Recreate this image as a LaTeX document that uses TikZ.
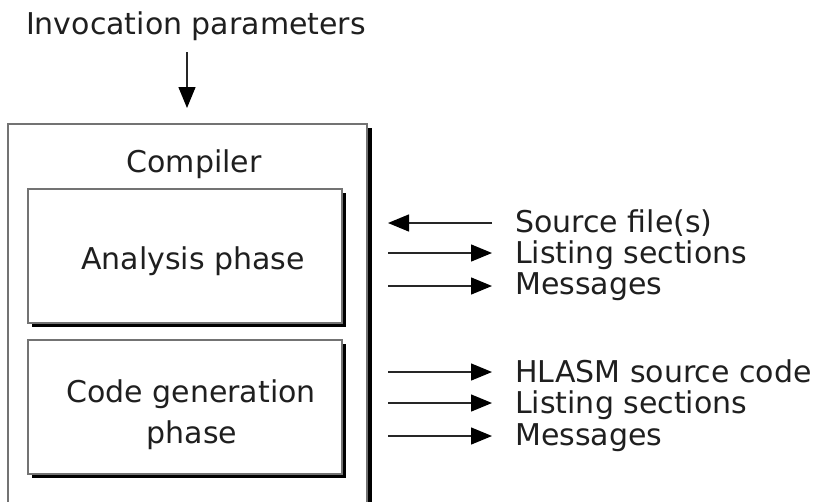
\documentclass[tikz,border=0pt]{standalone}
\usepackage{fontspec}
\setmainfont{DejaVu Sans}
\usetikzlibrary{arrows.meta,shadows}
\begin{document}
\begin{tikzpicture}[x=1pt,y=-1pt,
  every node/.style={font=\fontsize{30}{36}\selectfont, text=black!88},
  phasebox/.style={draw=black!55, line width=1.3pt, fill=white,
    minimum width=314pt, minimum height=134pt, inner sep=0pt,
    drop shadow={shadow xshift=4pt, shadow yshift=-4pt, fill=black, opacity=1}},
  flow/.style={line width=1.4pt, black!85, -{Triangle[length=21pt,width=17pt,fill=black,color=black]}},
  txt/.style={inner sep=0pt, text height=21.8pt, text depth=0pt},
  lbl/.style={txt, anchor=west}]
\clip (0,0) rectangle (813,501);
\fill[white] (0,0) rectangle (813,501);

% compiler frame with its shadow on the right
\fill[black] (363,128) rectangle (372,540);
\node[draw=black!55, line width=1.3pt, fill=white, minimum width=359pt,
  minimum height=416pt, inner sep=0pt] (comp) at (187.5,332) {};
\node[txt] (complbl) at (194,161.5) {Compiler};

% invocation parameters
\node[txt] (inv) at (196,23.5) {Invocation parameters};
\coordinate (invend) at (187,108);
\draw[flow] (187,52) -- (invend);

% the two phases
\node[phasebox] (ana) at (185,256) {};
\node[phasebox] (gen) at (185,407) {};
\node[txt] (anatxt) at (193,258.5) {Analysis phase};
\node[txt] (gentxt) at (191,392) {Code generation};
\node[txt] (gentxtb) at (192,433) {phase};

% inputs and outputs of the analysis phase
\node[lbl] (src) at (515,221.5) {Source file(s)};
\node[lbl] (lst1) at (515,252.5) {Listing sections};
\node[lbl] (msg1) at (515,284) {Messages};
\coordinate (a1) at (388,223);
\coordinate (a2) at (388,253);
\coordinate (a3) at (388,286);
\draw[flow] ([xshift=-23pt,yshift=-1.5pt]src.west) -- (a1);
\draw[flow] (a2) -- ([xshift=-23pt,yshift=-0.5pt]lst1.west);
\draw[flow] (a3) -- ([xshift=-23pt,yshift=-2pt]msg1.west);

% outputs of the code generation phase
\node[lbl] (hlasm) at (515,372) {HLASM source code};
\node[lbl] (lst2) at (515,403) {Listing sections};
\node[lbl] (msg2) at (515,435) {Messages};
\coordinate (g1) at (388,372);
\coordinate (g2) at (388,403);
\coordinate (g3) at (388,436);
\draw[flow] (g1) -- ([xshift=-23pt]hlasm.west);
\draw[flow] (g2) -- ([xshift=-23pt]lst2.west);
\draw[flow] (g3) -- ([xshift=-23pt,yshift=-1pt]msg2.west);
\end{tikzpicture}
\end{document}
